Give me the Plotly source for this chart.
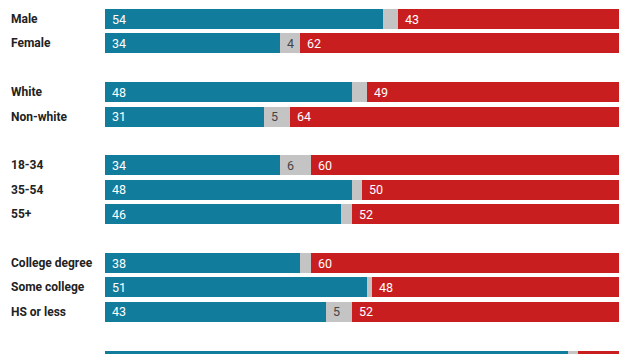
import plotly.graph_objects as go

categories = ["Male", "Female", "White", "Non-white", "18-34", "35-54", "55+",
              "College degree", "Some college", "HS or less", "All voters"]
slots = [0, 1, 3, 4, 6, 7, 8, 10, 11, 12, 14]
dem = [54, 34, 48, 31, 34, 48, 46, 38, 51, 43, 90]
other = [3, 4, 3, 5, 6, 2, 2, 2, 1, 5, 2]
rep = [43, 62, 49, 64, 60, 50, 52, 60, 48, 52, 8]

BLUE = "#127C9D"
GRAY = "#C4C4C4"
RED = "#C91E1F"

fig = go.Figure()
for vals, col, name in [(dem, BLUE, "Dem"), (other, GRAY, "Other"), (rep, RED, "Rep")]:
    fig.add_trace(go.Bar(
        y=slots, x=vals, orientation="h", marker=dict(color=col, line=dict(width=0)),
        width=0.82, name=name, showlegend=False, hoverinfo="x+name"))

ann = []
for i, s in enumerate(slots):
    starts = [0, dem[i], dem[i] + other[i]]
    vals = [dem[i], other[i], rep[i]]
    cols = ["white", "#444444", "white"]
    for st, v, c in zip(starts, vals, cols):
        if v >= 4:
            ann.append(dict(x=st, y=s, xref="x", yref="y", text=str(v), showarrow=False,
                            xanchor="left", yanchor="middle", xshift=5,
                            font=dict(family="Roboto", size=12.5, color=c)))
    ann.append(dict(x=-0.1868, y=s, xref="paper", yref="y", text="<b>" + categories[i] + "</b>",
                    showarrow=False, xanchor="left", yanchor="middle",
                    font=dict(family="Roboto", size=12, color="#222222")))

step = 24.4
top = -19 / step
fig.update_layout(
    barmode="stack", width=630, height=354,
    margin=dict(l=105, r=11, t=0, b=0),
    paper_bgcolor="white", plot_bgcolor="white",
    xaxis=dict(range=[0, 100], visible=False, fixedrange=True),
    yaxis=dict(range=[top + 354 / step, top], visible=False, fixedrange=True),
    annotations=ann, bargap=0,
)
fig.write_html("out.html")
